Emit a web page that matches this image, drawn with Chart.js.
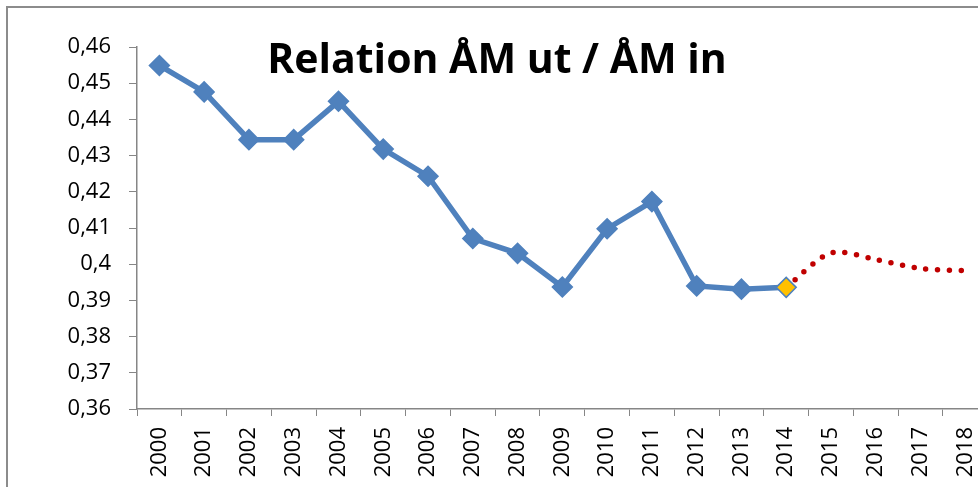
<!DOCTYPE html>
<html>
<head>
<meta charset="utf-8">
<script src="https://cdn.jsdelivr.net/npm/chart.js@4/dist/chart.umd.min.js"></script>
<style>
  html, body { margin: 0; padding: 0; overflow: hidden; background: #fff; width: 978px; height: 487px; }
  #wrap { position: absolute; left: 0; top: 0; width: 1003px; height: 487px; }
</style>
</head>
<body>
<div id="wrap"><canvas id="c"></canvas></div>
<script>
const years = ['2000','2001','2002','2003','2004','2005','2006','2007','2008','2009','2010','2011','2012','2013','2014','2015','2016','2017','2018'];
const actual = [0.4549, 0.4476, 0.4344, 0.4344, 0.4450, 0.4318, 0.4243, 0.4071, 0.4030, 0.3937, 0.4098, 0.4173, 0.3940, 0.3931, 0.3936, null, null, null, null];
const forecast = [null, null, null, null, null, null, null, null, null, null, null, null, null, null, 0.3936, 0.4031, 0.4013, 0.3988, 0.3982];
const yTickLabels = ['0,36','0,37','0,38','0,39','0,4','0,41','0,42','0,43','0,44','0,45','0,46'];
const titleText = 'Relation ÅM ut / ÅM in';

const blue = '#4F81BD';
const markerFill = actual.map((v, i) => i === 14 ? '#FFC000' : blue);

const decor = {
  id: 'decor',
  beforeDraw(chart) {
    const ctx = chart.ctx;
    ctx.save();
    ctx.fillStyle = '#8c8c8c';
    ctx.fillRect(6, 6, 2, chart.height);
    ctx.fillRect(6, 6, chart.width, 2);
    ctx.restore();
  },
  afterDraw(chart) {
    const ctx = chart.ctx;
    ctx.save();
    ctx.font = 'bold 41px "Open Sans"';
    ctx.fillStyle = '#000';
    ctx.textAlign = 'center';
    ctx.textBaseline = 'alphabetic';
    ctx.fillText(titleText, 497, 73);
    ctx.restore();
  }
};

new Chart(document.getElementById('c'), {
  type: 'line',
  data: {
    labels: years,
    datasets: [
      {
        data: actual,
        borderColor: blue,
        borderWidth: 5.5,
        tension: 0,
        pointStyle: 'rectRot',
        pointRadius: 10,
        pointBackgroundColor: markerFill,
        pointBorderColor: blue,
        pointBorderWidth: 1.5,
        spanGaps: false
      },
      {
        data: forecast,
        borderColor: '#C00000',
        borderWidth: 5.5,
        borderDash: [0, 11.8],
        borderCapStyle: 'round',
        tension: 0.3,
        pointRadius: 0,
        spanGaps: false
      }
    ]
  },
  options: {
    responsive: true,
    maintainAspectRatio: false,
    animation: false,
    layout: { padding: { top: 47, right: 0, left: 0, bottom: 0 } },
    plugins: { legend: { display: false }, tooltip: { enabled: false }, title: { display: false } },
    scales: {
      x: {
        offset: true,
        grid: { offset: true, drawOnChartArea: false, drawTicks: true, tickLength: 7, color: '#868686', lineWidth: 1 },
        border: { display: true, color: '#868686', width: 1.5 },
        ticks: {
          minRotation: 90, maxRotation: 90, autoSkip: false, padding: 11,
          color: '#000', font: { family: 'Open Sans', size: 22 }
        },
        afterFit(s) { s.height = 78; }
      },
      y: {
        min: 0.36, max: 0.46,
        grid: { drawOnChartArea: false, drawTicks: true, tickLength: 8, color: '#868686', lineWidth: 1 },
        border: { display: true, color: '#868686', width: 1.5 },
        ticks: {
          stepSize: 0.01, padding: 18, color: '#000',
          font: { family: 'Open Sans', size: 22 },
          callback(value, index) { return yTickLabels[index]; }
        },
        afterFit(s) { s.width = 137; }
      }
    }
  },
  plugins: [decor]
});
</script>
</body>
</html>
